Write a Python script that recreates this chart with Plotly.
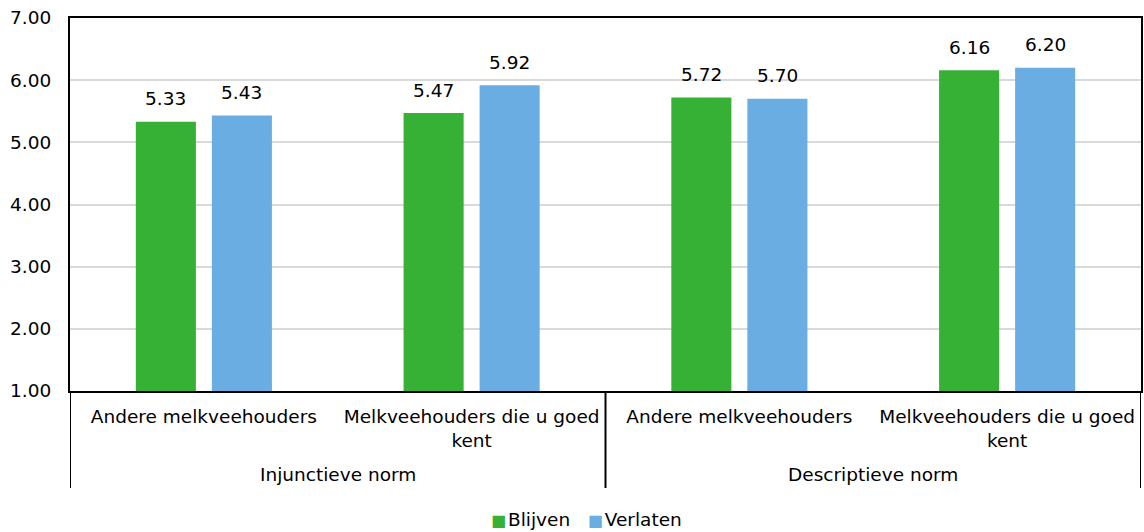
import plotly.graph_objects as go

# Grouped categories: outer = norm type, inner = reference group
norm_groups = ["Injunctieve norm", "Injunctieve norm", "Descriptieve norm", "Descriptieve norm"]
reference_groups = [
    "Andere melkveehouders",
    "Melkveehouders die u goed<br>kent",
    "Andere melkveehouders",
    "Melkveehouders die u goed<br>kent",
]

blijven = [5.33, 5.47, 5.72, 6.16]
verlaten = [5.43, 5.92, 5.70, 6.20]

y_ticks = [1, 2, 3, 4, 5, 6, 7]

FONT = "DejaVu Sans, Verdana, sans-serif"
FS = 18.5
GREEN = "#36b136"
BLUE = "#6aade3"

series = [("Blijven", blijven, GREEN), ("Verlaten", verlaten, BLUE)]
positions = list(range(len(reference_groups)))

fig = go.Figure()
for name, vals, color in series:
    fig.add_trace(go.Bar(
        name=name,
        x=positions,
        y=vals,
        base=0,
        marker=dict(color=color, line=dict(width=0)),
        showlegend=False,
        hoverinfo="name+y",
    ))

annotations = []
shapes = []

# value labels above each bar (slot offset follows bargap / bargroupgap)
slot_px = 76
for k, (name, vals, color) in enumerate(series):
    shift = (k - (len(series) - 1) / 2) * slot_px
    for i, v in zip(positions, vals):
        annotations.append(dict(
            x=i, y=v, xref="x", yref="y",
            text=f"{v:.2f}", showarrow=False,
            xshift=shift, yshift=23, yanchor="middle",
            font=dict(family=FONT, size=FS, color="#000000"),
        ))

# outer group labels and divider lines
group_names = []
for g in norm_groups:
    if g not in group_names:
        group_names.append(g)
for g in group_names:
    idx = [i for i, n in zip(positions, norm_groups) if n == g]
    annotations.append(dict(
        x=sum(idx) / len(idx), y=-0.2252, xref="x", yref="paper",
        text=g, showarrow=False, yanchor="middle",
        font=dict(family=FONT, size=FS, color="#000000"),
    ))
bounds = [-0.5]
for i in range(1, len(norm_groups)):
    if norm_groups[i] != norm_groups[i - 1]:
        bounds.append(i - 0.5)
bounds.append(len(norm_groups) - 0.5)
for b in bounds:
    shapes.append(dict(
        type="line", xref="x", yref="paper",
        x0=b, x1=b, y0=0, y1=-0.26,
        line=dict(color="#000000", width=2),
    ))

# legend row
legend_text = "&nbsp;&nbsp;&nbsp;".join(
    f"<span style='color:{c};font-size:16px'>■</span>&#8202;{n}" for n, _, c in series
)
annotations.append(dict(
    x=0.4827, y=-0.3458, xref="paper", yref="paper",
    text=legend_text, showarrow=False, yanchor="middle", xanchor="center",
    font=dict(family=FONT, size=FS, color="#000000"),
))

fig.update_layout(
    width=1144,
    height=532,
    margin=dict(l=70, r=3, t=18, b=141),
    paper_bgcolor="white",
    plot_bgcolor="white",
    font=dict(family=FONT, size=FS, color="#000000"),
    barmode="group",
    bargap=0.432,
    bargroupgap=0.21,
    showlegend=False,
    annotations=annotations,
    shapes=shapes,
)

fig.update_yaxes(
    range=[1, 7],
    tickvals=y_ticks,
    tickformat=".2f",
    showgrid=True,
    gridcolor="#d9d9d9",
    gridwidth=1.5,
    showline=True,
    linecolor="#000000",
    linewidth=2,
    mirror=True,
    ticks="",
    ticklabelstandoff=13,
    zeroline=False,
    automargin=False,
    tickfont=dict(family=FONT, size=FS),
)

fig.update_xaxes(
    range=[-0.5, len(positions) - 0.5],
    tickvals=positions,
    ticktext=reference_groups,
    showline=True,
    linecolor="#000000",
    linewidth=2,
    mirror=True,
    ticks="",
    ticklabelstandoff=8,
    showgrid=False,
    zeroline=False,
    automargin=False,
    tickfont=dict(family=FONT, size=FS),
)

fig.write_html("out.html")
